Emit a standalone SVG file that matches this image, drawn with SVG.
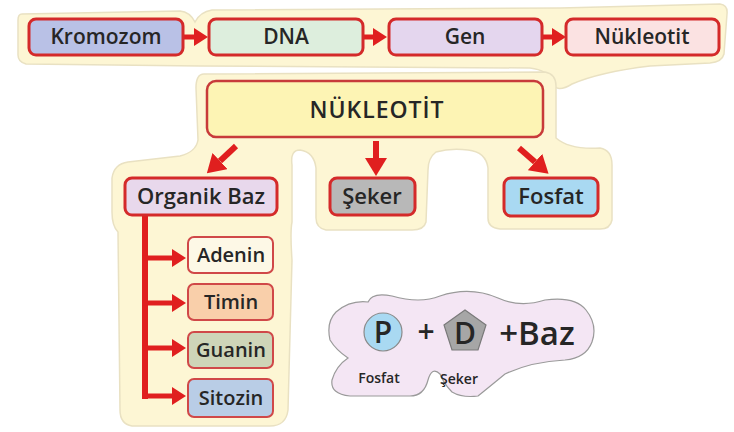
<svg xmlns="http://www.w3.org/2000/svg" width="734" height="432" viewBox="0 0 734 432">
<defs>
<style>
.blob{fill:#fdf6d4;stroke:#e9e1c2;stroke-width:1.5}
.box{stroke:#d42a2a;stroke-width:3}
.tbox{stroke:#c83a3a;stroke-width:2.5}
.bbox{stroke:#d04848;stroke-width:2}
.t{font-family:"Open Sans","DejaVu Sans",sans-serif;font-weight:600;fill:#262626;text-anchor:middle}
.arr{stroke:#e01f1f;fill:none}
</style>
<marker id="h" markerUnits="userSpaceOnUse" viewBox="0 0 14 18" markerWidth="14" markerHeight="18" refX="0" refY="9" orient="auto">
<path d="M0,0 L14,9 L0,18 Z" fill="#e01f1f"/>
</marker>
<marker id="hb" markerUnits="userSpaceOnUse" viewBox="0 0 18 22" markerWidth="18" markerHeight="22" refX="0" refY="11" orient="auto">
<path d="M0,0 L18,11 L0,22 Z" fill="#e01f1f"/>
</marker>
</defs>
<rect width="734" height="432" fill="#ffffff"/>

<g id="backgrounds">
<path class="blob" d="M22 14 L180 11 Q190 12 195 22 Q200 12 212 10 L560 8 L720 4 Q728 5 727 14 L724 54 Q722 62 710 63 L650 66 Q600 72 572 84 Q556 94 552 82 Q548 70 530 68 L200 66 L26 64 Q18 62 18 55 L18 20 Q18 14 22 14 Z"/>
<path class="blob" d="M204 74 L545 72 Q556 74 556 86 L556 138 Q570 150 600 148 Q612 150 612 165 L612 220 Q610 230 598 229 L500 229 Q488 228 488 218 L488 168 Q486 152 468 150 Q450 148 436 152 Q428 158 428 170 L426 222 Q424 230 412 230 L326 230 Q316 228 316 218 L316 168 Q314 152 300 150 Q290 150 292 165 L292 222 Q290 232 292 260 L288 410 Q286 426 270 426 L132 426 Q120 424 120 410 L118 232 Q112 226 112 212 L112 178 Q114 164 128 162 L180 156 Q196 152 198 140 L196 88 Q196 74 204 74 Z"/>
<path fill="#f4e6f4" stroke="#9a9a9a" stroke-width="1.2" d="M336 312 Q350 300 368 302 Q372 292 392 296 Q420 304 440 296 Q470 286 498 298 Q520 308 545 300 Q575 296 586 310 Q598 325 592 342 Q586 358 565 360 Q530 362 505 374 Q488 388 478 396 Q462 398 452 392 Q444 384 440 374 Q432 366 428 380 Q424 396 410 396 L350 396 Q330 394 332 380 Q336 366 348 358 Q336 350 330 340 Q326 322 336 312 Z"/>
</g>

<g id="connectors">
<line class="arr" x1="183" y1="37" x2="194" y2="37" stroke-width="5" marker-end="url(#h)"/>
<line class="arr" x1="363" y1="37" x2="373" y2="37" stroke-width="5" marker-end="url(#h)"/>
<line class="arr" x1="542" y1="37" x2="552" y2="37" stroke-width="5" marker-end="url(#h)"/>
<line class="arr" x1="236" y1="146" x2="220" y2="161" stroke-width="6" marker-end="url(#hb)"/>
<line class="arr" x1="376" y1="141" x2="376" y2="158" stroke-width="6" marker-end="url(#hb)"/>
<line class="arr" x1="519" y1="148" x2="535" y2="162" stroke-width="6" marker-end="url(#hb)"/>
<path class="arr" d="M145 215 L145 399" stroke-width="6"/>
<line class="arr" x1="142" y1="258" x2="172" y2="258" stroke-width="5" marker-end="url(#h)"/>
<line class="arr" x1="142" y1="303" x2="172" y2="303" stroke-width="5" marker-end="url(#h)"/>
<line class="arr" x1="142" y1="348" x2="172" y2="348" stroke-width="5" marker-end="url(#h)"/>
<path class="arr" d="M145 396 L172 396" stroke-width="5" marker-end="url(#h)"/>
</g>

<g id="kromozom"><rect class="box" x="29" y="19" width="154" height="36" rx="7" fill="#b9c1e6"/><text class="t" x="106" y="44" font-size="21">Kromozom</text></g>
<g id="dna"><rect class="box" x="209" y="19" width="154" height="36" rx="7" fill="#ddeedd"/><text class="t" x="286" y="44" font-size="21">DNA</text></g>
<g id="gen"><rect class="box" x="389" y="19" width="153" height="36" rx="7" fill="#e4d6ee"/><text class="t" x="465" y="44" font-size="21">Gen</text></g>
<g id="nukleotit"><rect class="box" x="566" y="19" width="153" height="36" rx="7" fill="#fbe2e2"/><text class="t" x="642" y="44" font-size="21">Nükleotit</text></g>

<g id="nukleotit-main"><rect class="tbox" x="207" y="81" width="336" height="56" rx="9" fill="#fdf4b4"/><text class="t" x="377" y="118" font-size="23" letter-spacing="1">NÜKLEOTİT</text></g>

<g id="organik-baz"><rect class="box" x="125" y="178" width="152" height="37" rx="7" fill="#e8d8ec"/><text class="t" x="201" y="204" font-size="22">Organik Baz</text></g>
<g id="seker"><rect class="box" x="330" y="178" width="85" height="37" rx="7" fill="#b8b8b8"/><text class="t" x="372" y="204" font-size="22">Şeker</text></g>
<g id="fosfat"><rect class="box" x="504" y="178" width="94" height="38" rx="7" fill="#a9d9f2"/><text class="t" x="551" y="204" font-size="22">Fosfat</text></g>

<g id="adenin"><rect class="bbox" x="188" y="237" width="85" height="36" rx="6" fill="#fdf8e6"/><text class="t" x="231" y="262" font-size="20">Adenin</text></g>
<g id="timin"><rect class="bbox" x="188" y="284" width="85" height="36" rx="6" fill="#f9cfaa"/><text class="t" x="231" y="309" font-size="20">Timin</text></g>
<g id="guanin"><rect class="bbox" x="188" y="332" width="85" height="36" rx="6" fill="#ced5b8"/><text class="t" x="231" y="357" font-size="20">Guanin</text></g>
<g id="sitozin"><rect class="bbox" x="188" y="379" width="85" height="38" rx="6" fill="#b9cde6"/><text class="t" x="231" y="405" font-size="20">Sitozin</text></g>

<g id="formula">
<circle cx="383" cy="332" r="19" fill="#a9d9f2" stroke="#8a8a8a" stroke-width="1.2"/>
<text class="t" x="383" y="343" font-size="30">P</text>
<text class="t" x="426" y="342" font-size="30">+</text>
<path d="M465 310 L486 325 L478 350 L452 350 L444 325 Z" fill="#a6a6a6" stroke="#7a7a7a" stroke-width="1.2"/>
<text class="t" x="465" y="344" font-size="30">D</text>
<text class="t" x="537" y="345" font-size="33">+Baz</text>
<text class="t" x="379" y="383" font-size="14">Fosfat</text>
<text class="t" x="459" y="384" font-size="14">Şeker</text>
</g>
</svg>
